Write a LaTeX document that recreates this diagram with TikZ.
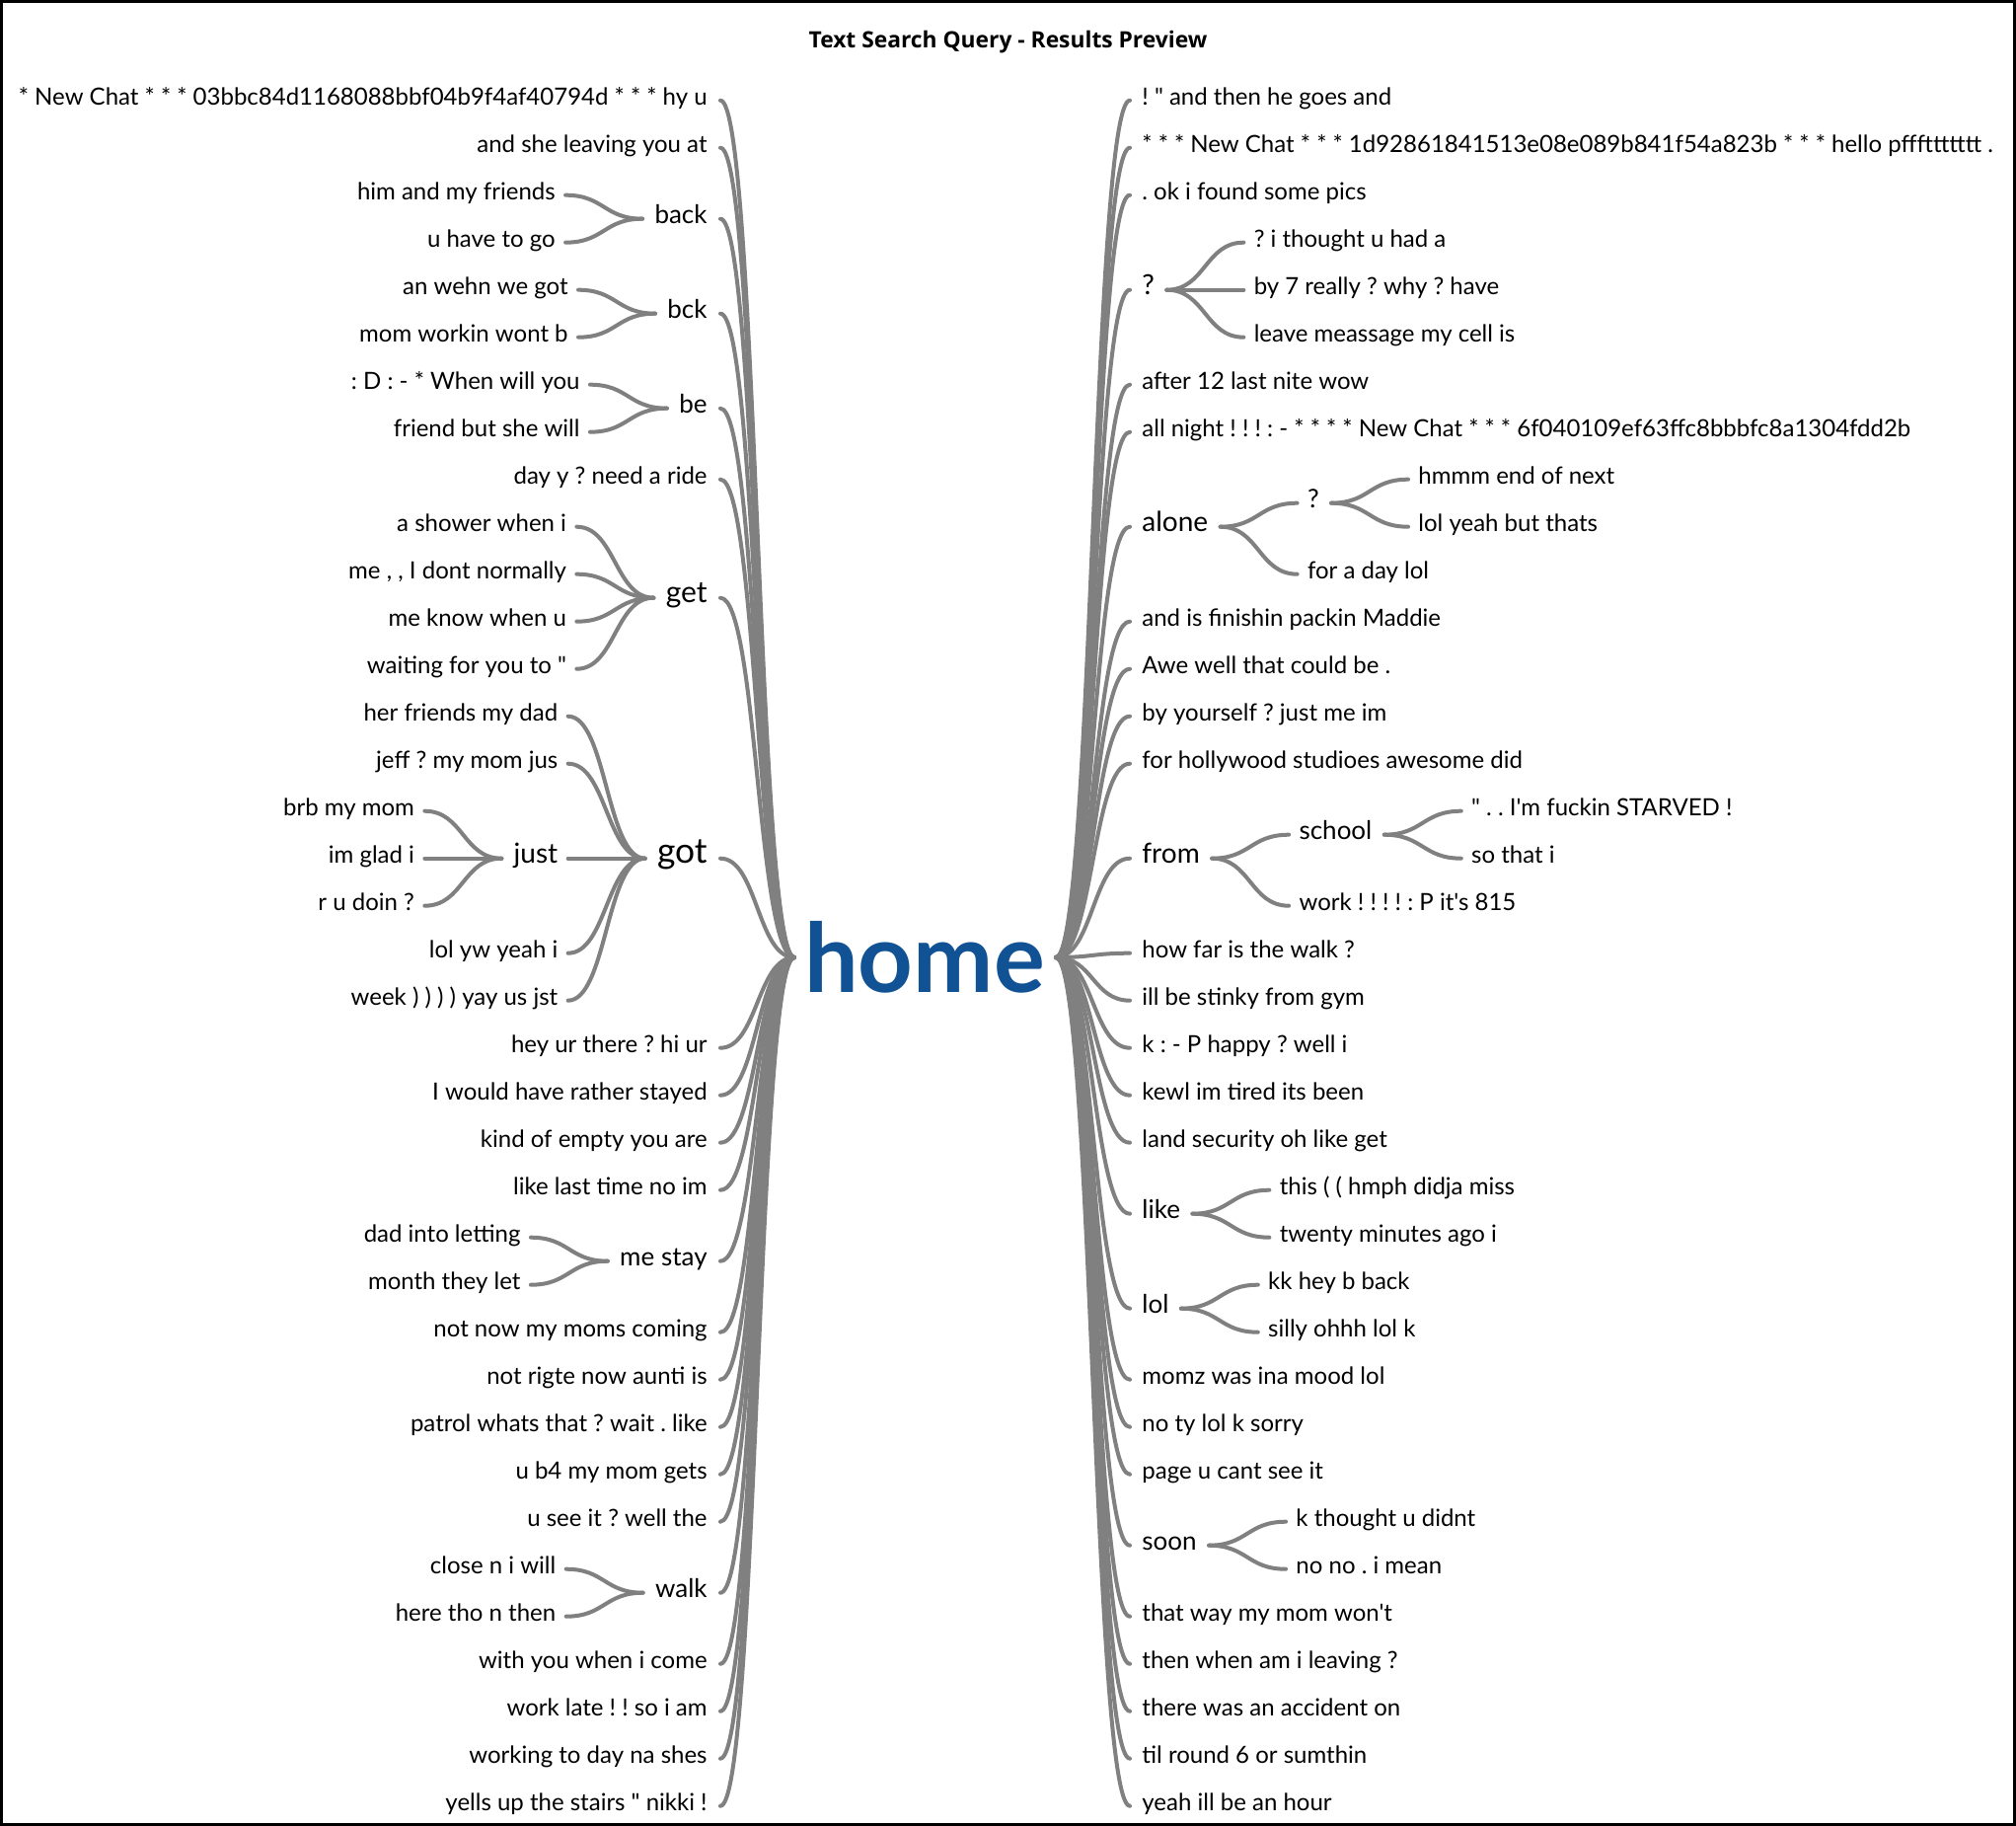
\documentclass[tikz,border=0pt]{standalone}
\usepackage{fontspec}
\newfontfamily\latofont{Lato}
\newfontfamily\titlefont{Open Sans}
\usetikzlibrary{calc}
\definecolor{homeblue}{RGB}{17,82,148}
\definecolor{linkgray}{RGB}{128,128,128}
\newcommand\row[1]{{101.7+48*(#1-1)}}
\newcommand\wlink[2]{\draw[conn] let \p1=(#1), \p2=(#2) in (\p1) .. controls ({0.5*\x1+0.5*\x2},\y1) and ({0.5*\x1+0.5*\x2},\y2) .. (\p2);}
\tikzset{
  lt/.style={inner sep=0pt,anchor=mid east},
  rt/.style={inner sep=0pt,anchor=mid west},
  s1/.style={font=\latofont\frenchspacing\fontsize{12}{14}\selectfont},
  s2/.style={font=\latofont\frenchspacing\fontsize{13}{15}\selectfont},
  s3/.style={font=\latofont\frenchspacing\fontsize{14}{16}\selectfont},
  s4/.style={font=\latofont\frenchspacing\fontsize{15}{17}\selectfont},
  s7/.style={font=\latofont\frenchspacing\fontsize{17.7}{20}\selectfont},
  rootstyle/.style={inner sep=0pt,anchor=base,text=homeblue,font=\latofont\bfseries\fontsize{48.5}{54}\selectfont},
  titlestyle/.style={inner sep=0pt,anchor=base,font=\titlefont\bfseries\fontsize{11.4}{13}\selectfont},
  conn/.style={draw=linkgray,line width=2pt,line cap=round},
}
\begin{document}
\frenchspacing
\begin{tikzpicture}[x=0.5pt,y=-0.5pt]
\useasboundingbox (0,0) rectangle (2043,1850);
\fill[white] (0,0) rectangle (2043,1850);
\draw[black,line width=1.5pt] (1.5,1.5) rectangle (2041.5,1848.5);
\foreach \i in {1,...,37}{\coordinate (r\i) at (0,{101.7+48*(\i-1)});}

\node[titlestyle] (title) at (1021.5,48.5) {Text Search Query - Results Preview};
\node[rootstyle] (home) at (937,1005) {home};
\coordinate (rootL) at (805,970);
\coordinate (rootR) at (1070,970);

% ---------------- left side ----------------
\node[lt,s1] (a01) at (717,\row{1}) {* New Chat * * * 03bbc84d1168088bbf04b9f4af40794d * * * hy u};
\node[lt,s1] (a02) at (717,\row{2}) {and she leaving you at};
\node[lt,s2] (back) at (717,\row{3.5}) {back};
\coordinate (backc) at ([xshift=-50pt]back.mid west);
\node[lt,s1] (a03) at (backc |- r3) {him and my friends};
\node[lt,s1] (a04) at (backc |- r4) {u have to go};
\node[lt,s2] (bck) at (717,\row{5.5}) {bck};
\coordinate (bckc) at ([xshift=-50pt]bck.mid west);
\node[lt,s1] (a05) at (bckc |- r5) {an wehn we got};
\node[lt,s1] (a06) at (bckc |- r6) {mom workin wont b};
\node[lt,s2] (be) at (717,\row{7.5}) {be};
\coordinate (bec) at ([xshift=-50pt]be.mid west);
\node[lt,s1] (a07) at (bec |- r7) {: D : - * When will you};
\node[lt,s1] (a08) at (bec |- r8) {friend but she will};
\node[lt,s1] (a09) at (717,\row{9}) {day y ? need a ride};
\node[lt,s4] (get) at (717,\row{11.5}) {get};
\coordinate (getc) at ([xshift=-50pt]get.mid west);
\node[lt,s1] (a10) at (getc |- r10) {a shower when i};
\node[lt,s1] (a11) at (getc |- r11) {me , , I dont normally};
\node[lt,s1] (a12) at (getc |- r12) {me know when u};
\node[lt,s1] (a13) at (getc |- r13) {waiting for you to "};
\node[lt,s7] (got) at (717,\row{17}) {got};
\coordinate (gotc) at ([xshift=-50pt]got.mid west);
\node[lt,s1] (a14) at (gotc |- r14) {her friends my dad};
\node[lt,s1] (a15) at (gotc |- r15) {jeff ? my mom jus};
\node[lt,s3] (just) at (gotc |- r17) {just};
\coordinate (justc) at ([xshift=-50pt]just.mid west);
\node[lt,s1] (a16) at (justc |- r16) {brb my mom};
\node[lt,s1] (a17) at (justc |- r17) {im glad i};
\node[lt,s1] (a18) at (justc |- r18) {r u doin ?};
\node[lt,s1] (a19) at (gotc |- r19) {lol yw yeah i};
\node[lt,s1] (a20) at (gotc |- r20) {week ) ) ) ) yay us jst};
\node[lt,s1] (a21) at (717,\row{21}) {hey ur there ? hi ur};
\node[lt,s1] (a22) at (717,\row{22}) {I would have rather stayed};
\node[lt,s1] (a23) at (717,\row{23}) {kind of empty you are};
\node[lt,s1] (a24) at (717,\row{24}) {like last time no im};
\node[lt,s2] (mestay) at (717,\row{25.5}) {me stay};
\coordinate (mestayc) at ([xshift=-50pt]mestay.mid west);
\node[lt,s1] (a25) at (mestayc |- r25) {dad into letting};
\node[lt,s1] (a26) at (mestayc |- r26) {month they let};
\node[lt,s1] (a27) at (717,\row{27}) {not now my moms coming};
\node[lt,s1] (a28) at (717,\row{28}) {not rigte now aunti is};
\node[lt,s1] (a29) at (717,\row{29}) {patrol whats that ? wait . like};
\node[lt,s1] (a30) at (717,\row{30}) {u b4 my mom gets};
\node[lt,s1] (a31) at (717,\row{31}) {u see it ? well the};
\node[lt,s2] (walk) at (717,\row{32.5}) {walk};
\coordinate (walkc) at ([xshift=-50pt]walk.mid west);
\node[lt,s1] (a32) at (walkc |- r32) {close n i will};
\node[lt,s1] (a33) at (walkc |- r33) {here tho n then};
\node[lt,s1] (a34) at (717,\row{34}) {with you when i come};
\node[lt,s1] (a35) at (717,\row{35}) {work late ! ! so i am};
\node[lt,s1] (a36) at (717,\row{36}) {working to day na shes};
\node[lt,s1] (a37) at (717,\row{37}) {yells up the stairs " nikki !};

\foreach \nd in {a01,a02,back,bck,be,a09,get,got,a21,a22,a23,a24,mestay,a27,a28,a29,a30,a31,walk,a34,a35,a36,a37}{
  \wlink{rootL}{[xshift=6.5pt]\nd.mid east}
}
\foreach \pa/\ch in {back/a03,back/a04,bck/a05,bck/a06,be/a07,be/a08,get/a10,get/a11,get/a12,get/a13,got/a14,got/a15,got/just,got/a19,got/a20,just/a16,just/a17,just/a18,mestay/a25,mestay/a26,walk/a32,walk/a33}{
  \wlink{[xshift=-6pt]\pa.mid west}{[xshift=5pt]\ch.mid east}
}

% ---------------- right side ----------------
\node[rt,s1] (b01) at (1157,\row{1}) {! " and then he goes and};
\node[rt,s1] (b02) at (1157,\row{2}) {* * * New Chat * * * 1d92861841513e08e089b841f54a823b * * * hello pfffttttttt .};
\node[rt,s1] (b03) at (1157,\row{3}) {. ok i found some pics};
\node[rt,s3] (qa) at (1157,\row{5}) {?};
\coordinate (qac) at ([xshift=50pt]qa.mid east);
\node[rt,s1] (b04) at (qac |- r4) {? i thought u had a};
\node[rt,s1] (b05) at (qac |- r5) {by 7 really ? why ? have};
\node[rt,s1] (b06) at (qac |- r6) {leave meassage my cell is};
\node[rt,s1] (b07) at (1157,\row{7}) {after 12 last nite wow};
\node[rt,s1] (b08) at (1157,\row{8}) {all night ! ! ! : - * * * * New Chat * * * 6f040109ef63ffc8bbbfc8a1304fdd2b};
\node[rt,s3] (alone) at (1157,\row{10}) {alone};
\coordinate (alonec) at ([xshift=50pt]alone.mid east);
\coordinate (h9) at (0,\row{9.5});
\node[rt,s2] (qb) at (alonec |- h9) {?};
\coordinate (qbc) at ([xshift=50pt]qb.mid east);
\node[rt,s1] (b09) at (qbc |- r9) {hmmm end of next};
\node[rt,s1] (b10) at (qbc |- r10) {lol yeah but thats};
\node[rt,s1] (b11) at (alonec |- r11) {for a day lol};
\node[rt,s1] (b12) at (1157,\row{12}) {and is finishin packin Maddie};
\node[rt,s1] (b13) at (1157,\row{13}) {Awe well that could be .};
\node[rt,s1] (b14) at (1157,\row{14}) {by yourself ? just me im};
\node[rt,s1] (b15) at (1157,\row{15}) {for hollywood studioes awesome did};
\node[rt,s3] (from) at (1157,\row{17}) {from};
\coordinate (fromc) at ([xshift=50pt]from.mid east);
\coordinate (h16) at (0,\row{16.5});
\node[rt,s2] (school) at (fromc |- h16) {school};
\coordinate (schoolc) at ([xshift=50pt]school.mid east);
\node[rt,s1] (b16) at (schoolc |- r16) {" . . I'm fuckin STARVED !};
\node[rt,s1] (b17) at (schoolc |- r17) {so that i};
\node[rt,s1] (b18) at (fromc |- r18) {work ! ! ! ! : P it's 815};
\node[rt,s1] (b19) at (1157,\row{19}) {how far is the walk ?};
\node[rt,s1] (b20) at (1157,\row{20}) {ill be stinky from gym};
\node[rt,s1] (b21) at (1157,\row{21}) {k : - P happy ? well i};
\node[rt,s1] (b22) at (1157,\row{22}) {kewl im tired its been};
\node[rt,s1] (b23) at (1157,\row{23}) {land security oh like get};
\node[rt,s2] (like) at (1157,\row{24.5}) {like};
\coordinate (likec) at ([xshift=50pt]like.mid east);
\node[rt,s1] (b24) at (likec |- r24) {this ( ( hmph didja miss};
\node[rt,s1] (b25) at (likec |- r25) {twenty minutes ago i};
\node[rt,s2] (lol) at (1157,\row{26.5}) {lol};
\coordinate (lolc) at ([xshift=50pt]lol.mid east);
\node[rt,s1] (b26) at (lolc |- r26) {kk hey b back};
\node[rt,s1] (b27) at (lolc |- r27) {silly ohhh lol k};
\node[rt,s1] (b28) at (1157,\row{28}) {momz was ina mood lol};
\node[rt,s1] (b29) at (1157,\row{29}) {no ty lol k sorry};
\node[rt,s1] (b30) at (1157,\row{30}) {page u cant see it};
\node[rt,s2] (soon) at (1157,\row{31.5}) {soon};
\coordinate (soonc) at ([xshift=50pt]soon.mid east);
\node[rt,s1] (b31) at (soonc |- r31) {k thought u didnt};
\node[rt,s1] (b32) at (soonc |- r32) {no no . i mean};
\node[rt,s1] (b33) at (1157,\row{33}) {that way my mom won't};
\node[rt,s1] (b34) at (1157,\row{34}) {then when am i leaving ?};
\node[rt,s1] (b35) at (1157,\row{35}) {there was an accident on};
\node[rt,s1] (b36) at (1157,\row{36}) {til round 6 or sumthin};
\node[rt,s1] (b37) at (1157,\row{37}) {yeah ill be an hour};

\foreach \nd in {b01,b02,b03,qa,b07,b08,alone,b12,b13,b14,b15,from,b19,b20,b21,b22,b23,like,lol,b28,b29,b30,soon,b33,b34,b35,b36,b37}{
  \wlink{rootR}{[xshift=-6pt]\nd.mid west}
}
\foreach \pa/\ch in {qa/b04,qa/b05,qa/b06,alone/qb,alone/b11,qb/b09,qb/b10,from/school,from/b18,school/b16,school/b17,like/b24,like/b25,lol/b26,lol/b27,soon/b31,soon/b32}{
  \wlink{[xshift=6pt]\pa.mid east}{[xshift=-5pt]\ch.mid west}
}
\end{tikzpicture}
\end{document}
